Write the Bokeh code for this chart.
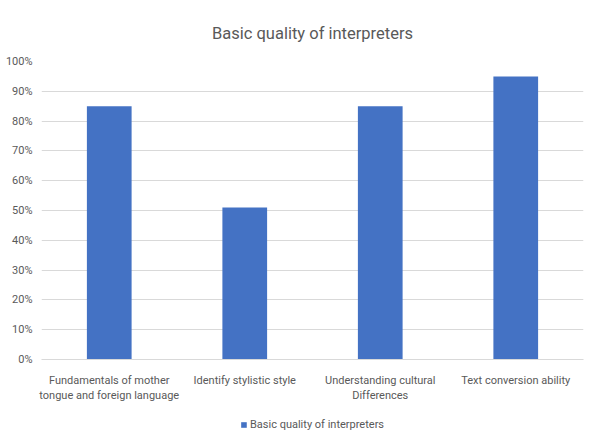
from bokeh.plotting import figure
from bokeh.layouts import column
from bokeh.models import ColumnDataSource, Range1d, FactorRange, NumeralTickFormatter, FixedTicker, Legend, LegendItem
from bokeh.embed import file_html
from bokeh.resources import INLINE

categories = ["Fundamentals of mother\ntongue and foreign language", "Identify stylistic style",
              "Understanding cultural\nDifferences", "Text conversion ability"]
values = [0.85, 0.51, 0.85, 0.95]
series_name = "Basic quality of interpreters"
yticks = [0, 0.1, 0.2, 0.3, 0.4, 0.5, 0.6, 0.7, 0.8, 0.9, 1.0]

FONT = "Roboto"
BAR = "#4472C4"
TXT = "#595959"
src = ColumnDataSource(dict(cat=categories, val=values))

p = figure(width=598, height=410, x_range=FactorRange(*categories), y_range=Range1d(0, 1),
           output_backend="svg", toolbar_location=None,
           min_border_left=41, min_border_right=15, min_border_top=61, min_border_bottom=51)
p.title.text = "Basic quality of interpreters"
p.title.align = "center"
p.title.text_font = FONT
p.title.text_font_size = "16.5px"
p.title.text_font_style = "normal"
p.title.text_color = TXT
p.title.standoff = 37

p.vbar(x="cat", top="val", width=0.33, source=src, fill_color=BAR, line_color=None)

p.outline_line_color = None
p.xgrid.grid_line_color = None
p.ygrid.grid_line_color = "#d9d9d9"
p.ygrid.grid_line_width = 1

p.yaxis.ticker = FixedTicker(ticks=yticks)
p.yaxis.formatter = NumeralTickFormatter(format="0%")
p.yaxis.axis_line_color = None
p.yaxis.major_tick_line_color = None
p.yaxis.minor_tick_line_color = None
p.yaxis.major_label_text_font = FONT
p.yaxis.major_label_text_font_size = "11px"
p.yaxis.major_label_text_color = TXT
p.yaxis.major_label_standoff = 3

p.xaxis.axis_line_color = "#d9d9d9"
p.xaxis.major_tick_line_color = None
p.xaxis.minor_tick_line_color = None
p.xaxis.major_label_text_font = FONT
p.xaxis.major_label_text_font_size = "11px"
p.xaxis.major_label_text_color = TXT
p.xaxis.major_label_standoff = 8

# legend strip below the chart (its swatch renderer sits outside the visible range)
lg = figure(width=598, height=23, x_range=Range1d(0, 1), y_range=Range1d(0, 1),
            output_backend="svg", toolbar_location=None, min_border=0)
lg.axis.visible = False
lg.grid.visible = False
lg.outline_line_color = None
swatch = ColumnDataSource(dict(x=[-5], top=[-5]))
lr = lg.vbar(x="x", top="top", bottom=-5, width=0.1, source=swatch, fill_color=BAR, line_color=None)
legend = Legend(items=[LegendItem(label=series_name, renderers=[lr])], orientation="horizontal",
                location="bottom_center", label_text_font=FONT, label_text_font_size="11px",
                label_text_color=TXT, glyph_width=7, glyph_height=7, border_line_color=None,
                background_fill_alpha=0, label_standoff=3, padding=0, margin=2)
lg.add_layout(legend)

open("out.html", "w").write(file_html(column(p, lg, spacing=0), INLINE))
